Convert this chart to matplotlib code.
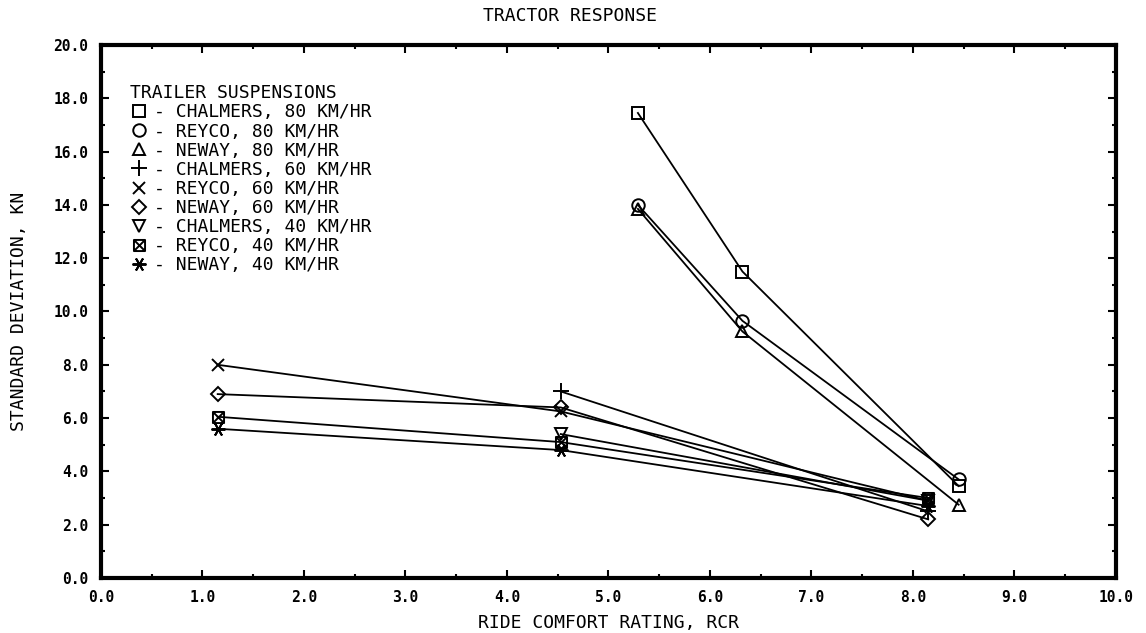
import numpy as np
import matplotlib
matplotlib.use('Agg')
import matplotlib.pyplot as plt
from matplotlib.path import Path
from matplotlib.lines import Line2D
from matplotlib.ticker import MultipleLocator, FormatStrFormatter

# ride comfort rating (x) and standard deviation in kN (y)
rcr_80 = [5.29, 6.32, 8.45]
chalmers_80 = [17.45, 11.5, 3.45]
reyco_80 = [14.0, 9.65, 3.7]
neway_80 = [13.85, 9.25, 2.75]

rcr_60 = [1.15, 4.53, 8.15]
rcr_chalmers_60 = [4.53, 8.15]
chalmers_60 = [7.0, 2.5]
reyco_60 = [8.0, 6.25, 2.9]
neway_60 = [6.9, 6.4, 2.2]

rcr_40 = [1.15, 4.53, 8.15]
rcr_chalmers_40 = [4.53, 8.15]
chalmers_40 = [5.4, 2.9]
reyco_40 = [6.05, 5.1, 3.0]
neway_40 = [5.6, 4.8, 2.7]

labels = ['- CHALMERS, 80 KM/HR', '- REYCO, 80 KM/HR', '- NEWAY, 80 KM/HR',
          '- CHALMERS, 60 KM/HR', '- REYCO, 60 KM/HR', '- NEWAY, 60 KM/HR',
          '- CHALMERS, 40 KM/HR', '- REYCO, 40 KM/HR', '- NEWAY, 40 KM/HR']

# boxed X marker
box_x = Path([(-1, -1), (1, -1), (1, 1), (-1, 1), (-1, -1),
              (-1, -1), (1, 1), (-1, 1), (1, -1)],
             [Path.MOVETO, Path.LINETO, Path.LINETO, Path.LINETO, Path.CLOSEPOLY,
              Path.MOVETO, Path.LINETO, Path.MOVETO, Path.LINETO])

series = [
    (rcr_80, chalmers_80, 's', 9),
    (rcr_80, reyco_80, 'o', 9),
    (rcr_80, neway_80, '^', 9),
    (rcr_chalmers_60, chalmers_60, '+', 11),
    (rcr_60, reyco_60, 'x', 9),
    (rcr_60, neway_60, 'D', 7),
    (rcr_chalmers_40, chalmers_40, 'v', 9),
    (rcr_40, reyco_40, box_x, 8),
    (rcr_40, neway_40, (6, 2, 90), 10),
]

plt.rcParams['font.family'] = ['DejaVu Sans Mono', 'DejaVu Sans']

fig = plt.figure(figsize=(11.46, 6.33), dpi=100)
ax = fig.add_axes([0.0881, 0.0869, 0.8857, 0.842])

handles = []
for (xs, ys, m, ms), lab in zip(series, labels):
    ax.plot(xs, ys, color='black', lw=1.3, marker=m, markersize=ms,
            markerfacecolor='none', markeredgecolor='black', markeredgewidth=1.4)
    handles.append(Line2D([], [], ls='none', marker=m, markersize=ms,
                          markerfacecolor='none', markeredgecolor='black',
                          markeredgewidth=1.4))

ax.set_xlim(0, 10)
ax.set_ylim(0, 20)
ax.xaxis.set_major_locator(MultipleLocator(1))
ax.yaxis.set_major_locator(MultipleLocator(2))
ax.xaxis.set_minor_locator(MultipleLocator(0.5))
ax.yaxis.set_minor_locator(MultipleLocator(1))
ax.xaxis.set_major_formatter(FormatStrFormatter('%.1f'))
ax.yaxis.set_major_formatter(FormatStrFormatter('%.1f'))
ax.tick_params(which='both', direction='in', top=True, right=True, width=1.5)
ax.tick_params(which='major', length=6, labelsize=10.5, pad=9)
ax.tick_params(which='minor', length=3)
for lbl in ax.get_xticklabels() + ax.get_yticklabels():
    lbl.set_fontweight('bold')
for sp in ax.spines.values():
    sp.set_linewidth(3)

ax.set_xlabel('RIDE COMFORT RATING, RCR', fontsize=13, labelpad=6)
ax.set_ylabel('STANDARD DEVIATION, KN', fontsize=13, labelpad=18)
fig.text(0.497, 0.975, 'TRACTOR RESPONSE', ha='center', va='center', fontsize=13)

leg = ax.legend(handles, labels, title='TRAILER SUSPENSIONS', loc='upper left',
                bbox_to_anchor=(0.02, 0.943), frameon=False, fontsize=13,
                title_fontsize=13, handlelength=1.0, handletextpad=0.3,
                labelspacing=0.06, borderpad=0, alignment='left')

fig.savefig('out.png', dpi=100)
